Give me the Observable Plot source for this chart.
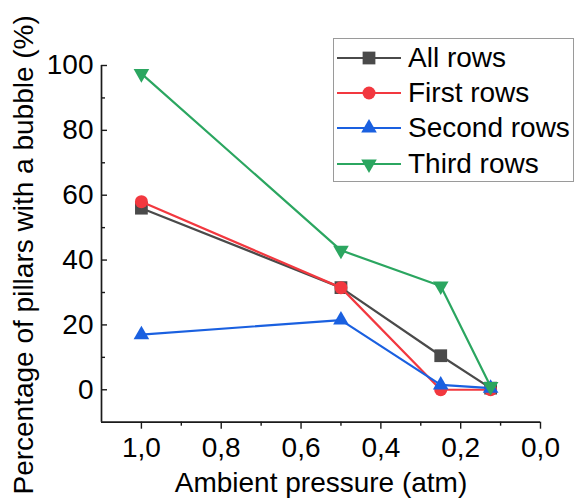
<!DOCTYPE html>
<html><head><meta charset="utf-8">
<script src="https://cdn.jsdelivr.net/npm/d3@7"></script>
<script src="https://cdn.jsdelivr.net/npm/@observablehq/plot@0.6"></script>
<style>
html,body{margin:0;padding:0;background:#fff;}
#wrap{position:relative;width:575px;height:498px;font-family:"Liberation Sans",Arial,sans-serif;}
#legend{position:absolute;left:333px;top:38px;width:239px;height:142px;border:1px solid #9a9a9a;background:#fff;}
.row{position:absolute;left:0;height:36px;width:239px;}
.row svg{position:absolute;left:0;top:0;}
.row span{position:absolute;left:74px;top:0;line-height:36px;font-size:28px;color:#000;white-space:nowrap;}
</style></head><body><div id="wrap"></div>
<script>
const pressure = [1.0, 0.5, 0.25, 0.125];
const seriesNames = ["All rows", "First rows", "Second rows", "Third rows"];
const allRows = [56, 31.5, 10.5, 0.5];
const firstRows = [58, 31.5, 0, 0];
const secondRows = [17, 21.5, 1.5, 0.5];
const thirdRows = [97.5, 43, 32, 1];
const xDomain = [1.1, 0];
const yDomain = [-10, 100];
const xMajorTicks = [1.0, 0.8, 0.6, 0.4, 0.2, 0.0];
const xMinorTicks = [0.9, 0.7, 0.5, 0.3, 0.1];
const yMajorTicks = [0, 20, 40, 60, 80, 100];
const yMinorTicks = [10, 30, 50, 70, 90];
const xTitle = "Ambient pressure (atm)";
const yTitle = "Percentage of pillars with a bubble (%)";

const styles = [
  {color: "#4a4a4a", symbol: "square", r: 7.2, rotate: 0},
  {color: "#f2383f", symbol: "circle", r: 6.5, rotate: 0},
  {color: "#1a60e0", symbol: "triangle", r: 5.8, rotate: 0},
  {color: "#2ba660", symbol: "triangle", r: 5.8, rotate: 180}
];
const values = [allRows, firstRows, secondRows, thirdRows];
const rows = seriesNames.map((name, i) => pressure.map((p, j) => ({series: name, x: p, y: values[i][j]})));

const W = 575, H = 498, ML = 101, MR = 35, MT = 65, MB = 76.3;
const frameW = W - ML - MR, frameH = H - MT - MB;
const fmt = d => d.toFixed(1).replace(".", ",");
const FS = 28;
const AX = "#1a1a1a";
const dataMarks = [];
rows.forEach((r, i) => {
  const s = styles[i];
  dataMarks.push(Plot.line(r, {x: "x", y: "y", stroke: s.color, strokeWidth: 2.2}));
  dataMarks.push(Plot.dot(r, {x: "x", y: "y", symbol: s.symbol, r: s.r, fill: s.color, rotate: s.rotate}));
});

const chart = Plot.plot({
  width: W, height: H,
  marginLeft: ML, marginRight: MR, marginTop: MT, marginBottom: MB,
  style: {fontFamily: '"Liberation Sans", Arial, sans-serif', fontSize: FS + "px", color: "#000", background: "#fff"},
  x: {domain: xDomain},
  y: {domain: yDomain},
  marks: [
    // inward y ticks
    Plot.tickY(yMajorTicks, {y: d => d, insetRight: frameW - 6, stroke: AX, strokeWidth: 1.4}),
    Plot.tickY(yMinorTicks, {y: d => d, insetRight: frameW - 4, stroke: AX, strokeWidth: 1.4}),
    // outward x ticks
    Plot.tickX(xMajorTicks, {x: d => d, insetTop: frameH, insetBottom: -7, stroke: AX, strokeWidth: 1.4}),
    Plot.tickX(xMinorTicks, {x: d => d, insetTop: frameH, insetBottom: -4, stroke: AX, strokeWidth: 1.4}),
    // spines
    Plot.ruleX([xDomain[0]], {stroke: AX, strokeWidth: 1.7}),
    Plot.ruleY([yDomain[0]], {stroke: AX, strokeWidth: 1.7}),
    // tick labels
    Plot.axisY({ticks: yMajorTicks, tickSize: 0, tickPadding: 8, label: null, fontSize: FS, fill: "#000"}),
    Plot.axisX({ticks: xMajorTicks, tickSize: 0, tickPadding: 15, tickFormat: fmt, label: null, fontSize: FS, fill: "#000"}),
    // titles
    Plot.text([yTitle], {text: d => d, frameAnchor: "left", textAnchor: "middle", rotate: -90, dx: -77, dy: 11, lineAnchor: "middle", fontSize: FS, fill: "#000"}),
    Plot.text([xTitle], {text: d => d, frameAnchor: "bottom", textAnchor: "middle", dy: 61, lineAnchor: "middle", fontSize: FS, fill: "#000"}),
    ...dataMarks
  ]
});

const wrap = document.getElementById("wrap");
wrap.appendChild(chart);

// Legend overlay
const legend = d3.select(wrap).append("div").attr("id", "legend");
const rowCenters = [18.7, 54, 89, 125];
const symMap = {square: d3.symbolSquare, circle: d3.symbolCircle, triangle: d3.symbolTriangle};
seriesNames.forEach((name, i) => {
  const s = styles[i];
  const row = legend.append("div").attr("class", "row").style("top", (rowCenters[i] - 18) + "px");
  const svg = row.append("svg").attr("width", 70).attr("height", 36);
  svg.append("line").attr("x1", 3).attr("x2", 67).attr("y1", 18).attr("y2", 18)
    .attr("stroke", s.color).attr("stroke-width", 2.2);
  svg.append("path")
    .attr("d", d3.symbol(symMap[s.symbol], Math.PI * s.r * s.r)())
    .attr("transform", `translate(35,18) rotate(${s.rotate})`)
    .attr("fill", s.color);
  row.append("span").text(name);
});
</script>
</body></html>
